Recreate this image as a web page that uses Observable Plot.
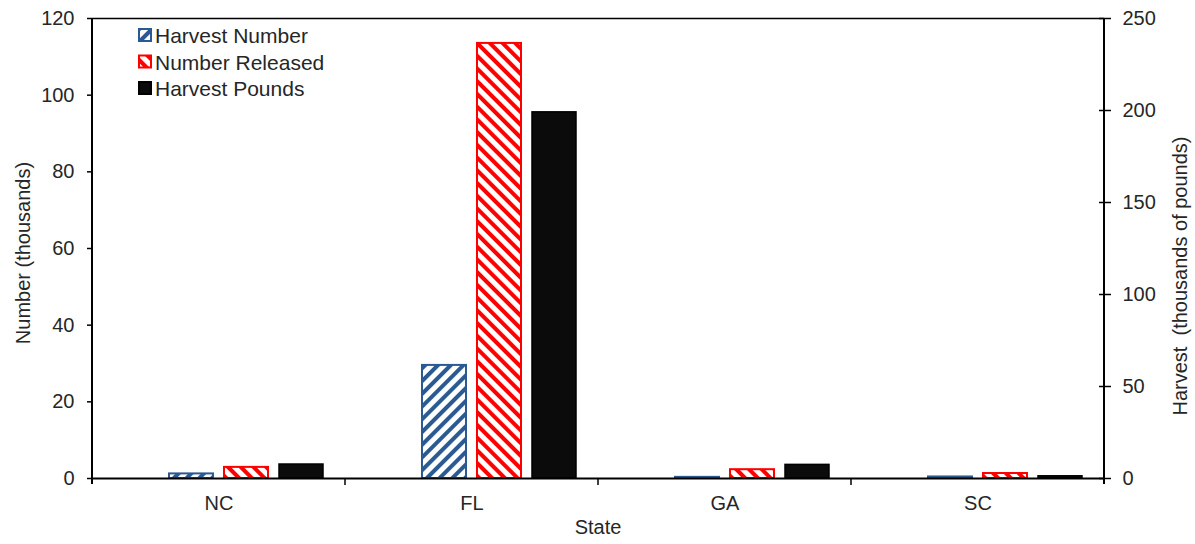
<!DOCTYPE html>
<html><head><meta charset="utf-8">
<script src="https://cdn.jsdelivr.net/npm/d3@7"></script>
<script src="https://cdn.jsdelivr.net/npm/@observablehq/plot@0.6"></script>
<style>
body{margin:0;background:#fff;}
#wrap{position:relative;width:1195px;height:544px;}
</style></head><body><div id="wrap"></div>
<script>
// ---- data ----
const states = ["NC", "FL", "GA", "SC"];
const harvestNumber = [1.2, 29.5, 0.3, 0.4];      // thousands of fish (left axis)
const numberReleased = [2.9, 113.5, 2.3, 1.3];    // thousands of fish (left axis)
const harvestPounds = [7.6, 199, 7.4, 1.2];       // thousands of pounds (right axis)
const seriesNames = ["Harvest Number", "Number Released", "Harvest Pounds"];
const leftTicks = [0, 20, 40, 60, 80, 100, 120];
const rightTicks = [0, 50, 100, 150, 200, 250];
const leftMax = 120, rightMax = 250;
const ratio = leftMax / rightMax;

const rows = [];
states.forEach((s, i) => {
  rows.push({state: s, series: seriesNames[0], v: harvestNumber[i]});
  rows.push({state: s, series: seriesNames[1], v: numberReleased[i]});
  rows.push({state: s, series: seriesNames[2], v: harvestPounds[i] * ratio});
});

const FONT = "Liberation Sans, Arial, sans-serif";
const TXT = "#262626";
const BLUE = "#2B5A92", RED = "#FF0000";

const plot = Plot.plot({
  width: 1195, height: 544,
  marginLeft: 92, marginRight: 91, marginTop: 18, marginBottom: 66,
  style: {fontFamily: FONT, fontSize: "20px", color: TXT, background: "#fff", overflow: "visible"},
  fx: {domain: states, padding: 0, label: null},
  x: {domain: ["_gap", ...seriesNames], paddingInner: 0.2, paddingOuter: 0.38, align: 0.5, axis: null},
  y: {domain: [0, leftMax], axis: null},
  marks: [
    Plot.barY(rows.filter(d => d.series === seriesNames[0]), {fx: "state", x: "series", y: "v", fill: "url(#pBlue)", stroke: BLUE, strokeWidth: 2}),
    Plot.barY(rows.filter(d => d.series === seriesNames[1]), {fx: "state", x: "series", y: "v", fill: "url(#pRed)", stroke: RED, strokeWidth: 2}),
    Plot.barY(rows.filter(d => d.series === seriesNames[2]), {fx: "state", x: "series", y: "v", fill: "#0b0b0b", stroke: "#000", strokeWidth: 1.5}),
    Plot.ruleY([0], {stroke: "#000", strokeWidth: 2}),
    Plot.ruleY([leftMax], {stroke: "#000", strokeWidth: 1.5}),
    Plot.axisY(leftTicks, {anchor: "left", tickSize: 5, tickPadding: 13, label: null, stroke: "#000", strokeWidth: 1.5}),
    Plot.axisY(rightTicks.map(t => t * ratio), {anchor: "right", tickSize: 6, tickPadding: 12, label: null,
      tickFormat: d => String(Math.round(d / ratio)), stroke: "#000", strokeWidth: 1.5}),
    Plot.axisY(rightTicks.map(t => t * ratio), {anchor: "right", tickSize: -6, label: null, tickFormat: () => "", stroke: "#000", strokeWidth: 1.5}),
    Plot.axisFx({anchor: "bottom", tickSize: 0, tickPadding: 17, label: null})
  ]
});

document.getElementById("wrap").appendChild(plot);

// ---- post-processing with Plot's own scales ----
const svg = d3.select(plot);
const defs = svg.insert("defs", ":first-child");
function stripes(id, color, angle, w, frac) {
  const p = defs.append("pattern").attr("id", id).attr("patternUnits", "userSpaceOnUse")
    .attr("width", w).attr("height", w).attr("patternTransform", `rotate(${angle})`);
  p.append("rect").attr("width", w).attr("height", w).attr("fill", "#fff");
  p.append("rect").attr("width", w * frac).attr("height", w).attr("fill", color);
}
stripes("pBlue", BLUE, 45, 9, 0.45);
stripes("pRed", RED, -45, 9, 0.45);

const fxs = plot.scale("fx");
const ys = plot.scale("y");
const band = d3.scaleBand().domain(fxs.domain).range(fxs.range).padding(0);
const yScale = d3.scaleLinear().domain(ys.domain).range(ys.range);
const y0 = yScale(0), yTop = yScale(leftMax);
const xL = fxs.range[0], xR = fxs.range[1];
const g = svg.append("g").attr("stroke", "#000");
g.append("line").attr("x1", xL).attr("x2", xL).attr("y1", yTop).attr("y2", y0 + 6).attr("stroke-width", 2);
g.append("line").attr("x1", xR).attr("x2", xR).attr("y1", yTop).attr("y2", y0 + 6).attr("stroke-width", 2);
states.forEach((s, i) => {
  if (i === 0) return;
  const x = band(s);
  g.append("line").attr("x1", x).attr("x2", x).attr("y1", y0).attr("y2", y0 + 7).attr("stroke-width", 1.5);
});

// axis titles
const t = svg.append("g").attr("font-family", FONT).attr("font-size", 20).attr("fill", TXT).attr("text-anchor", "middle");
t.append("text").attr("transform", `translate(23,${(y0 + yTop) / 2 + 5}) rotate(-90)`).attr("dy", "0.35em").text("Number (thousands)");
t.append("text").attr("transform", `translate(1180,${(y0 + yTop) / 2 + 28}) rotate(-90)`).attr("dy", "0.35em").text("Harvest  (thousands of pounds)");
t.append("text").attr("x", (xL + xR) / 2).attr("y", 534).text("State");

// legend
const legend = svg.append("g").attr("font-family", FONT).attr("font-size", 21).attr("fill", TXT).attr("text-anchor", "start");
const swatch = [
  {fill: "url(#pBlue)", stroke: BLUE},
  {fill: "url(#pRed)", stroke: RED},
  {fill: "#0b0b0b", stroke: "#000"}
];
seriesNames.forEach((name, i) => {
  const base = 43 + i * 26.5;
  legend.append("rect").attr("x", 139).attr("y", base - 14).attr("width", 12).attr("height", 12)
    .attr("fill", swatch[i].fill).attr("stroke", swatch[i].stroke).attr("stroke-width", 2);
  legend.append("text").attr("x", 155).attr("y", base).attr("text-anchor", "start").text(name);
});
</script></body></html>
